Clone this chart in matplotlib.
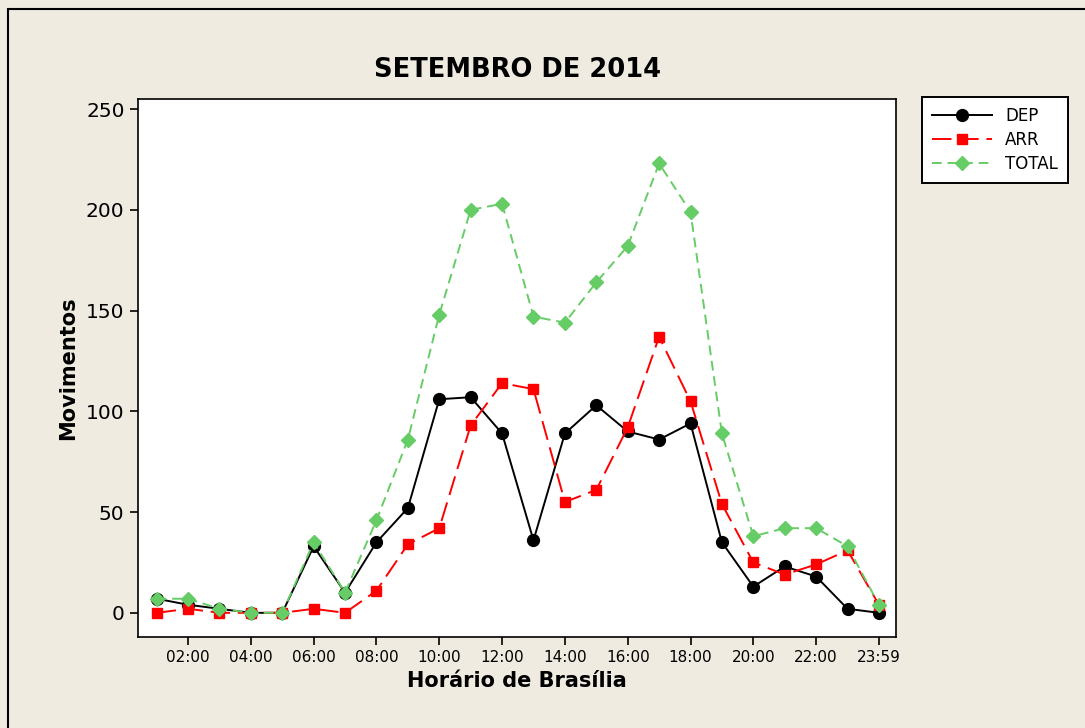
import matplotlib.pyplot as plt
from matplotlib.patches import Rectangle

hours = list(range(1, 25))
tick_pos = [2, 4, 6, 8, 10, 12, 14, 16, 18, 20, 22, 24]
tick_labels = ['02:00', '04:00', '06:00', '08:00', '10:00', '12:00',
               '14:00', '16:00', '18:00', '20:00', '22:00', '23:59']

dep = [7, 4, 2, 0, 0, 33, 10, 35, 52, 106, 107, 89,
       36, 89, 103, 90, 86, 94, 35, 13, 23, 18, 2, 0]
arr = [0, 2, 0, 0, 0, 2, 0, 11, 34, 42, 93, 114,
       111, 55, 61, 92, 137, 105, 54, 25, 19, 24, 31, 4]
total = [7, 7, 2, 0, 0, 35, 10, 46, 86, 148, 200, 203,
         147, 144, 164, 182, 223, 199, 89, 38, 42, 42, 33, 4]

bg = '#efebe1'
fig = plt.figure(figsize=(10.85, 7.28), dpi=100, facecolor=bg)
ax = fig.add_axes([0.127, 0.125, 0.699, 0.739])
ax.set_facecolor('white')

# outer frame of the graph window
fig.patches.append(Rectangle((8 / 1085, -0.1), 1.2, 1 - 9 / 728 + 0.1,
                             transform=fig.transFigure, fill=False,
                             edgecolor='black', linewidth=1.5))

ax.plot(hours, dep, color='black', linestyle='-', linewidth=1.4,
        marker='o', markersize=8.5, label='DEP')
ax.plot(hours, arr, color='#ff0000', linestyle=(0, (10, 4)), linewidth=1.4,
        marker='s', markersize=7, label='ARR')
ax.plot(hours, total, color='#66cc66', linestyle=(0, (5, 3)), linewidth=1.4,
        marker='D', markersize=7, label='TOTAL')

ax.set_xlim(0.4, 24.55)
ax.set_ylim(-12, 255)
ax.set_xticks(tick_pos)
ax.set_xticklabels(tick_labels, fontsize=11)
ax.set_yticks([0, 50, 100, 150, 200, 250])
ax.tick_params(axis='y', labelsize=14.5)
ax.tick_params(direction='out', length=6, width=1.2, color='black')
for s in ax.spines.values():
    s.set_linewidth(1.2)

ax.set_title('SETEMBRO DE 2014', fontsize=18.5, fontweight='bold', pad=16)
ax.set_xlabel('Horário de Brasília', fontsize=15, fontweight='bold', labelpad=4)
ax.set_ylabel('Movimentos', fontsize=15, fontweight='bold', labelpad=6)

leg = fig.legend(loc='upper left', bbox_to_anchor=(922 / 1085, 1 - 97 / 728),
                 fontsize=12, frameon=True, fancybox=False, edgecolor='black',
                 facecolor='white', framealpha=1, borderaxespad=0,
                 handlelength=3.6, borderpad=0.6, labelspacing=0.35,
                 handletextpad=0.8)
leg.get_frame().set_linewidth(1.4)

fig.savefig('out.png', dpi=100, facecolor=bg)
